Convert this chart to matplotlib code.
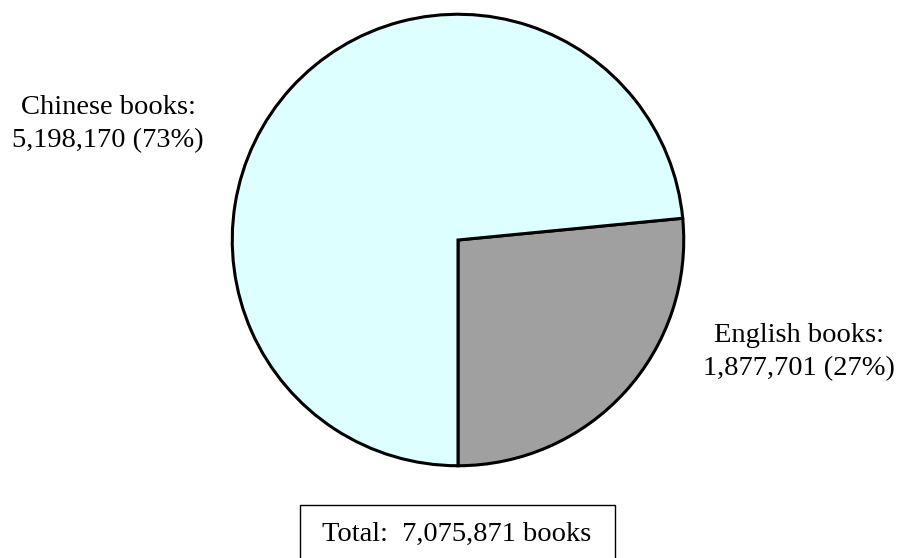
import matplotlib
matplotlib.use('Agg')
import matplotlib.pyplot as plt
from matplotlib.patches import Rectangle

labels = ['English books', 'Chinese books']
counts = [1877701, 5198170]
colors = ['#a0a0a0', '#ddffff']
total = sum(counts)

plt.rcParams['font.family'] = ['Liberation Serif', 'DejaVu Serif']

W, H = 903, 558
FS = 20.5
fig = plt.figure(figsize=(W / 100, H / 100), dpi=100)
# pie centre ~ (458, 240) px, radius ~228 px
ax = fig.add_axes([(458 - 228) / W, (H - 240 - 228) / H, 456 / W, 456 / H])
ax.pie(counts, colors=colors, startangle=270, counterclock=True,
       wedgeprops=dict(edgecolor='black', linewidth=2.2))
ax.set_xlim(-1.01, 1.01)
ax.set_ylim(-1.01, 1.01)
ax.set_aspect('equal')

def px(x, y):
    return x / W, 1 - y / H

pct = [round(100 * c / total) for c in counts]

# Chinese label (two lines, baselines in px)
fig.text(*px(108, 114), f'{labels[1]}:', ha='center', va='baseline', fontsize=FS)
fig.text(*px(108, 147), f'{counts[1]:,} ({pct[1]}%)', ha='center', va='baseline', fontsize=FS)
# English label
fig.text(*px(799, 342), f'{labels[0]}:', ha='center', va='baseline', fontsize=FS)
fig.text(*px(799, 375), f'{counts[0]:,} ({pct[0]}%)', ha='center', va='baseline', fontsize=FS)

# total box, runs off the bottom edge
fig.patches.append(Rectangle(px(300, 570), 315 / W, 65 / H, transform=fig.transFigure,
                             facecolor='white', edgecolor='black', linewidth=1))
fig.text(*px(457, 541), f'Total:  {total:,} books', ha='center', va='baseline', fontsize=FS)

fig.savefig('out.png', dpi=100)
